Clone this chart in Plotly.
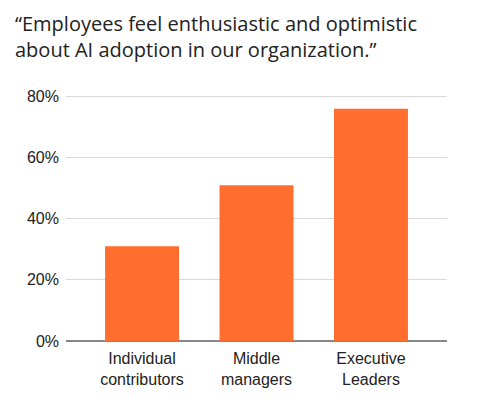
import plotly.graph_objects as go

# survey data
categories = ["Individual<br>contributors", "Middle<br>managers", "Executive<br>Leaders"]
agree_share = [0.31, 0.51, 0.76]
tick_values = [0, 0.2, 0.4, 0.6, 0.8]
tick_labels = ["0%", "20%", "40%", "60%", "80%"]

title_text = ("\u201cEmployees feel enthusiastic and optimistic<br>"
              "about AI adoption in our organization.\u201d")

W, H = 477, 409
ML, MR, MT, MB = 66, 30, 95, 68

fig = go.Figure()
fig.add_trace(go.Bar(
    x=categories, y=agree_share,
    marker=dict(color="#FF6D2F", line=dict(width=0)),
    hoverinfo="skip",
))

# title as an annotation placed in paper units above the plot area
fig.add_annotation(
    text=title_text, showarrow=False, align="left",
    xref="paper", yref="paper",
    x=-(ML - 13) / (W - ML - MR), xanchor="left",
    y=1 + (MT - 8) / (H - MT - MB), yanchor="top",
    font=dict(family="Open Sans", size=20, color="#222222"),
)

fig.update_layout(
    width=W, height=H,
    margin=dict(l=ML, r=MR, t=MT, b=MB),
    paper_bgcolor="white", plot_bgcolor="white",
    showlegend=False,
    bargap=0.354,
    xaxis=dict(
        range=[-0.664, 2.664],
        showgrid=False, showline=False, ticks="", ticklabelstandoff=6,
        tickfont=dict(family="Liberation Sans, Arial", size=16, color="#222222"),
    ),
    yaxis=dict(
        range=[0, 0.805], tickvals=tick_values, ticktext=tick_labels,
        showgrid=True, gridcolor="#d9d9d9", gridwidth=1,
        zeroline=True, zerolinecolor="#888888", zerolinewidth=1.5,
        showline=False, ticks="", ticklabelstandoff=6,
        tickfont=dict(family="Liberation Sans, Arial", size=16, color="#222222"),
    ),
)

# drop the default 8px page margin so the figure sits at the window corner
fig.write_html("out.html", config={"displayModeBar": False},
               post_script="document.body.style.margin='0';")
